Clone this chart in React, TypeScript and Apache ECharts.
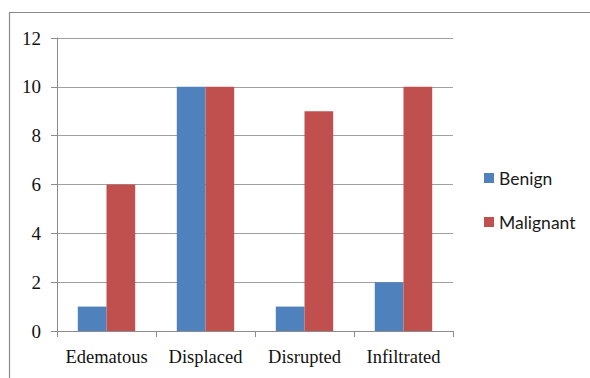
import React, { useEffect, useRef } from "react";
import * as echarts from "echarts";

const categories = ["Edematous", "Displaced", "Disrupted", "Infiltrated"];
const benign = [1, 10, 1, 2];
const malignant = [6, 10, 9, 10];
const seriesNames = ["Benign", "Malignant"];

export default function App() {
  const ref = useRef<HTMLDivElement>(null);
  useEffect(() => {
    const chart = echarts.init(ref.current!, null, { renderer: "svg" });
    chart.setOption({
      animation: false,
      backgroundColor: "#ffffff",
      graphic: [
        {
          type: "rect",
          shape: { x: 9.5, y: 12.5, width: 700, height: 500 },
          style: { fill: "none", stroke: "#8a8a8a", lineWidth: 1.2 },
          silent: true,
        },
      ],
      grid: { left: 57, right: 137, top: 38, bottom: 47, containLabel: false },
      legend: {
        orient: "vertical",
        left: 479,
        top: 164,
        itemWidth: 10,
        itemHeight: 10,
        itemGap: 26,
        icon: "rect",
        textStyle: { fontFamily: "Lato", fontSize: 17.5, color: "#1a1a1a" },
        data: seriesNames,
      },
      xAxis: {
        type: "category",
        data: categories,
        axisLine: { show: true, lineStyle: { color: "#8c8c8c", width: 1 } },
        axisTick: { show: true, length: 6, alignWithLabel: false, lineStyle: { color: "#8c8c8c" } },
        axisLabel: { interval: 0, fontFamily: "Liberation Serif", fontSize: 18.5, color: "#111", margin: 16 },
      },
      yAxis: {
        type: "value",
        min: 0,
        max: 12,
        interval: 2,
        axisLine: { show: true, lineStyle: { color: "#8c8c8c", width: 1 } },
        axisTick: { show: true, length: 6, lineStyle: { color: "#8c8c8c" } },
        splitLine: { show: true, lineStyle: { color: "#a0a0a0", width: 1 } },
        axisLabel: { fontFamily: "Liberation Serif", fontSize: 19, color: "#111", margin: 16 },
      },
      series: [
        {
          name: seriesNames[0],
          type: "bar",
          data: benign,
          barGap: "0%",
          barCategoryGap: "42%",
          itemStyle: { color: "#4F81BD" },
        },
        {
          name: seriesNames[1],
          type: "bar",
          data: malignant,
          barGap: "0%",
          barCategoryGap: "42%",
          itemStyle: { color: "#C0504D" },
        },
      ],
    });
    return () => chart.dispose();
  }, []);
  return (
    <div
      ref={ref}
      style={{ position: "fixed", left: 0, top: 0, width: 590, height: 378 }}
    />
  );
}
